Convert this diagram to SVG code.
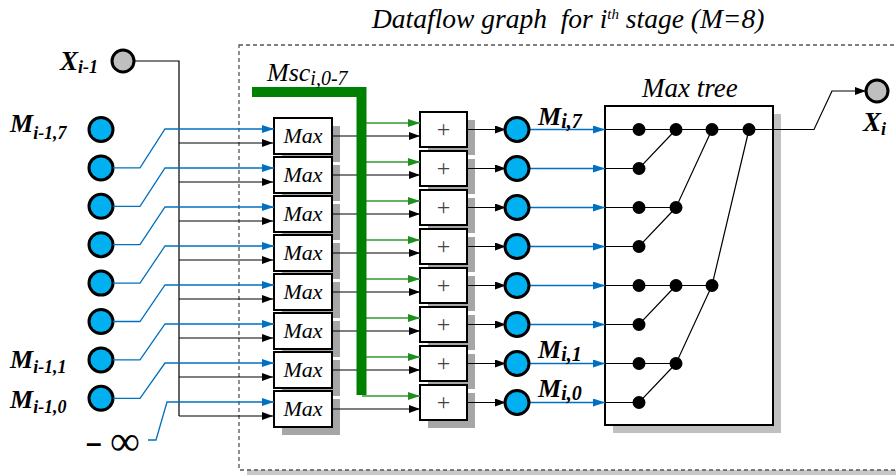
<svg xmlns="http://www.w3.org/2000/svg" width="896" height="475" viewBox="0 0 896 475">
<defs>
<marker id="ak" viewBox="0 0 11 8" refX="11" refY="4" markerWidth="11" markerHeight="8" markerUnits="userSpaceOnUse" orient="auto"><path d="M0,0 L11,4 L0,8 z" fill="#000"/></marker>
<marker id="ab" viewBox="0 0 12 8" refX="12" refY="4" markerWidth="12" markerHeight="8" markerUnits="userSpaceOnUse" orient="auto"><path d="M0,0 L12,4 L0,8 z" fill="#0070c0"/></marker>
<marker id="ag" viewBox="0 0 12 8" refX="12" refY="4" markerWidth="12" markerHeight="8" markerUnits="userSpaceOnUse" orient="auto"><path d="M0,0 L12,4 L0,8 z" fill="#1f8f1f"/></marker>
</defs>
<style>
.ln{stroke:#000;stroke-width:1.2;fill:none}
.lk{stroke:#000;stroke-width:1.2;fill:none;marker-end:url(#ak)}
.lb{stroke:#0070c0;stroke-width:1.3;fill:none;marker-end:url(#ab)}
.lg{stroke:#2e9a2e;stroke-width:1.3;fill:none;marker-end:url(#ag)}
.box{fill:#fff;stroke:#000;stroke-width:2}
.sh{fill:#a6a6a6}
.sh2{fill:#c0c0c0}
.cb{fill:#00b0f0;stroke:#000;stroke-width:3}
.cg{fill:#bfbfbf;stroke:#000;stroke-width:3}
.dot{fill:#000}
.it{font-family:"Liberation Serif",serif;font-style:italic}
.bi{font-family:"Liberation Serif",serif;font-style:italic;font-weight:bold}
.mx{font-family:"Liberation Serif",serif;font-style:italic;font-size:22px;text-anchor:middle}
.pl{font-family:"Liberation Serif",serif;font-size:24px;fill:#444;text-anchor:middle}
</style>
<rect width="896" height="475" fill="#fff"/>

<g id="frame">
<rect x="247" y="53" width="700" height="425" fill="#c8c8c8"/>
<rect x="239" y="45" width="700" height="425" fill="#fff" stroke="#555" stroke-width="1.3" stroke-dasharray="4 3"/>
<text class="it" x="372" y="28" font-size="27.5">Dataflow graph&#160; for i<tspan font-size="15" dy="-9">th</tspan><tspan dy="9"> stage (M=8)</tspan></text>
</g>

<g id="x-in">
<circle class="cg" cx="123" cy="61" r="11"/>
<text class="bi" x="60" y="70" font-size="27">X<tspan font-size="18" dy="3">i-1</tspan></text>
</g>
<g id="m-in">
<circle class="cb" cx="101" cy="129.5" r="12"/>
<circle class="cb" cx="101" cy="167.9" r="12"/>
<circle class="cb" cx="101" cy="206.3" r="12"/>
<circle class="cb" cx="101" cy="244.7" r="12"/>
<circle class="cb" cx="101" cy="283.1" r="12"/>
<circle class="cb" cx="101" cy="321.5" r="12"/>
<circle class="cb" cx="101" cy="359.9" r="12"/>
<circle class="cb" cx="101" cy="398.3" r="12"/>
<text class="bi" x="10" y="132" font-size="26">M<tspan font-size="18" dy="7">i-1,7</tspan></text>
<text class="bi" x="10" y="368" font-size="26">M<tspan font-size="18" dy="5">i-1,1</tspan></text>
<text class="bi" x="10" y="408" font-size="26">M<tspan font-size="18" dy="5">i-1,0</tspan></text>
</g>
<g id="neg-inf">
<text x="86" y="452" font-family="Liberation Sans,sans-serif" font-weight="bold" font-size="28">–</text>
<text x="110" y="455" font-family="Liberation Serif,serif" font-size="42">∞</text>
</g>

<g id="max-units">
<rect class="sh" x="282" y="126" width="58" height="36"/>
<rect class="sh" x="282" y="165" width="58" height="36"/>
<rect class="sh" x="282" y="204" width="58" height="36"/>
<rect class="sh" x="282" y="243" width="58" height="36"/>
<rect class="sh" x="282" y="282" width="58" height="36"/>
<rect class="sh" x="282" y="321" width="58" height="36"/>
<rect class="sh" x="282" y="360" width="58" height="36"/>
<rect class="sh" x="282" y="399" width="58" height="36"/>
<g id="max0"><rect class="box" x="274" y="118" width="58" height="36"/><text class="mx" x="303" y="143">Max</text></g>
<g id="max1"><rect class="box" x="274" y="157" width="58" height="36"/><text class="mx" x="303" y="182">Max</text></g>
<g id="max2"><rect class="box" x="274" y="196" width="58" height="36"/><text class="mx" x="303" y="221">Max</text></g>
<g id="max3"><rect class="box" x="274" y="235" width="58" height="36"/><text class="mx" x="303" y="260">Max</text></g>
<g id="max4"><rect class="box" x="274" y="274" width="58" height="36"/><text class="mx" x="303" y="299">Max</text></g>
<g id="max5"><rect class="box" x="274" y="313" width="58" height="36"/><text class="mx" x="303" y="338">Max</text></g>
<g id="max6"><rect class="box" x="274" y="352" width="58" height="36"/><text class="mx" x="303" y="377">Max</text></g>
<g id="max7"><rect class="box" x="274" y="391" width="58" height="36"/><text class="mx" x="303" y="416">Max</text></g>
</g>

<g id="adders">
<rect class="sh" x="428" y="120" width="47" height="35"/>
<rect class="sh" x="428" y="159" width="47" height="35"/>
<rect class="sh" x="428" y="198" width="47" height="35"/>
<rect class="sh" x="428" y="237" width="47" height="35"/>
<rect class="sh" x="428" y="276" width="47" height="35"/>
<rect class="sh" x="428" y="315" width="47" height="35"/>
<rect class="sh" x="428" y="354" width="47" height="35"/>
<rect class="sh" x="428" y="393" width="47" height="35"/>
<g id="add0"><rect class="box" x="420" y="112" width="47" height="35"/><text class="pl" x="443.5" y="137">+</text></g>
<g id="add1"><rect class="box" x="420" y="151" width="47" height="35"/><text class="pl" x="443.5" y="176">+</text></g>
<g id="add2"><rect class="box" x="420" y="190" width="47" height="35"/><text class="pl" x="443.5" y="215">+</text></g>
<g id="add3"><rect class="box" x="420" y="229" width="47" height="35"/><text class="pl" x="443.5" y="254">+</text></g>
<g id="add4"><rect class="box" x="420" y="268" width="47" height="35"/><text class="pl" x="443.5" y="293">+</text></g>
<g id="add5"><rect class="box" x="420" y="307" width="47" height="35"/><text class="pl" x="443.5" y="332">+</text></g>
<g id="add6"><rect class="box" x="420" y="346" width="47" height="35"/><text class="pl" x="443.5" y="371">+</text></g>
<g id="add7"><rect class="box" x="420" y="385" width="47" height="35"/><text class="pl" x="443.5" y="410">+</text></g>
</g>

<g id="max-tree">
<rect class="sh2" x="613" y="114" width="168" height="319"/>
<rect class="box" x="605" y="106" width="168" height="319"/>
<text class="it" x="642" y="97" font-size="27">Max tree</text>
</g>

<g id="connectors">
<path class="ln" d="M134,61 H179 V416"/>
<path class="lk" d="M179,143 H273"/>
<path class="lk" d="M179,182 H273"/>
<path class="lk" d="M179,221 H273"/>
<path class="lk" d="M179,260 H273"/>
<path class="lk" d="M179,299 H273"/>
<path class="lk" d="M179,338 H273"/>
<path class="lk" d="M179,377 H273"/>
<path class="lk" d="M179,416 H273"/>
<path class="lb" d="M113,167.9 H140 L165,129 H274"/>
<path class="lb" d="M113,206.3 H140 L165,168 H274"/>
<path class="lb" d="M113,244.7 H140 L165,207 H274"/>
<path class="lb" d="M113,283.1 H140 L165,246 H274"/>
<path class="lb" d="M113,321.5 H140 L165,285 H274"/>
<path class="lb" d="M113,359.9 H140 L165,324 H274"/>
<path class="lb" d="M113,398.3 H140 L165,363 H274"/>
<path class="lb" d="M148,440 H156 L167,402 H274"/>
<path class="lk" d="M332,136 H420"/>
<path class="lk" d="M332,175 H420"/>
<path class="lk" d="M332,214 H420"/>
<path class="lk" d="M332,253 H420"/>
<path class="lk" d="M332,292 H420"/>
<path class="lk" d="M332,331 H420"/>
<path class="lk" d="M332,370 H420"/>
<path class="lk" d="M332,409 H420"/>
<path class="lg" d="M362,123 H420"/>
<path class="lg" d="M362,162 H420"/>
<path class="lg" d="M362,201 H420"/>
<path class="lg" d="M362,240 H420"/>
<path class="lg" d="M362,279 H420"/>
<path class="lg" d="M362,318 H420"/>
<path class="lg" d="M362,357 H420"/>
<path class="lg" d="M362,396 H420"/>
<path d="M252,92 H361.5 V395" fill="none" stroke="#008000" stroke-width="10"/>
<text class="it" x="267" y="81" font-size="26">Msc<tspan font-size="20" dy="4">i,0-7</tspan></text>
<path class="lk" d="M467,129.5 H506"/>
<path class="lk" d="M467,168.5 H506"/>
<path class="lk" d="M467,207.5 H506"/>
<path class="lk" d="M467,246.5 H506"/>
<path class="lk" d="M467,285.5 H506"/>
<path class="lk" d="M467,324.5 H506"/>
<path class="lk" d="M467,363.5 H506"/>
<path class="lk" d="M467,402.5 H506"/>
<path class="lb" d="M529,129.5 H605"/>
<path class="lb" d="M529,168.5 H605"/>
<path class="lb" d="M529,207.5 H605"/>
<path class="lb" d="M529,246.5 H605"/>
<path class="lb" d="M529,285.5 H605"/>
<path class="lb" d="M529,324.5 H605"/>
<path class="lb" d="M529,363.5 H605"/>
<path class="lb" d="M529,402.5 H605"/>
<path class="lk" d="M605,129.5 H814 L832,91 H866"/>
<path class="ln" d="M605,168.5 H639 L676,129.5"/>
<path class="ln" d="M605,207.5 H676 L712,129.5"/>
<path class="ln" d="M605,246.5 H639 L676,207.5"/>
<path class="ln" d="M605,285.5 H712 L749,129.5"/>
<path class="ln" d="M605,324.5 H639 L676,285.5"/>
<path class="ln" d="M605,363.5 H676 L712,285.5"/>
<path class="ln" d="M605,402.5 H639 L676,363.5"/>
</g>

<g id="m-out">
<circle class="cb" cx="517" cy="129.5" r="12"/>
<circle class="cb" cx="517" cy="168.5" r="12"/>
<circle class="cb" cx="517" cy="207.5" r="12"/>
<circle class="cb" cx="517" cy="246.5" r="12"/>
<circle class="cb" cx="517" cy="285.5" r="12"/>
<circle class="cb" cx="517" cy="324.5" r="12"/>
<circle class="cb" cx="517" cy="363.5" r="12"/>
<circle class="cb" cx="517" cy="402.5" r="12"/>
<text class="bi" x="538" y="125" font-size="26">M<tspan font-size="20" dy="3">i,7</tspan></text>
<text class="bi" x="538" y="358" font-size="26">M<tspan font-size="20" dy="3">i,1</tspan></text>
<text class="bi" x="538" y="397" font-size="26">M<tspan font-size="20" dy="3">i,0</tspan></text>
</g>

<g id="tree-nodes">
<circle class="dot" cx="639" cy="129.5" r="6.5"/><circle class="dot" cx="676" cy="129.5" r="6.5"/><circle class="dot" cx="712" cy="129.5" r="6.5"/><circle class="dot" cx="749" cy="129.5" r="6.5"/>
<circle class="dot" cx="639" cy="168.5" r="6.5"/>
<circle class="dot" cx="639" cy="207.5" r="6.5"/><circle class="dot" cx="676" cy="207.5" r="6.5"/>
<circle class="dot" cx="639" cy="246.5" r="6.5"/>
<circle class="dot" cx="639" cy="285.5" r="6.5"/><circle class="dot" cx="676" cy="285.5" r="6.5"/><circle class="dot" cx="712" cy="285.5" r="6.5"/>
<circle class="dot" cx="639" cy="324.5" r="6.5"/>
<circle class="dot" cx="639" cy="363.5" r="6.5"/><circle class="dot" cx="676" cy="363.5" r="6.5"/>
<circle class="dot" cx="639" cy="402.5" r="6.5"/>
</g>

<g id="x-out">
<circle class="cg" cx="877" cy="91" r="11"/>
<text class="bi" x="863" y="131" font-size="27">X<tspan font-size="18" dy="4">i</tspan></text>
</g>
</svg>
